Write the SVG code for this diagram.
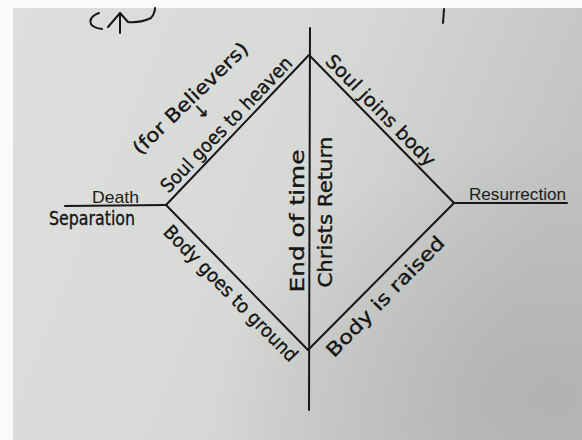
<svg xmlns="http://www.w3.org/2000/svg" width="582" height="440" viewBox="0 0 582 440">
  <defs>
    <linearGradient id="paper" x1="0" y1="0" x2="1" y2="0.3">
      <stop offset="0" stop-color="#dddfdc"/>
      <stop offset="0.55" stop-color="#d7d9d6"/>
      <stop offset="1" stop-color="#c2c4c2"/>
    </linearGradient>
    <radialGradient id="shade" cx="0.95" cy="0.9" r="0.6">
      <stop offset="0" stop-color="#9fa2a1" stop-opacity="0.5"/>
      <stop offset="1" stop-color="#9fa2a1" stop-opacity="0"/>
    </radialGradient>
  </defs>
  <style>
    .ink { fill: none; stroke: #161616; stroke-width: 2; stroke-linecap: round; stroke-linejoin: round; }
    .hand { font-family: "DejaVu Sans", "Noto Sans", sans-serif; font-size: 19px; fill: #141414; stroke: #141414; stroke-width: 0.35; }
    .print { font-family: "Liberation Sans", Arial, sans-serif; font-size: 17px; fill: #1a1a1a; }
  </style>
  <rect width="582" height="440" fill="#fafafa"/>
  <rect x="13" y="8" width="569" height="432" fill="url(#paper)"/>
  <rect x="13" y="8" width="569" height="432" fill="url(#shade)"/>

  <g id="doodles" class="ink" stroke-width="2.6">
    <path d="M 99,13 C 88,17 86,27 102,29"/>
    <path d="M 120,33 L 120,13"/>
    <path d="M 108,27 L 120,13 L 128,22 Q 141,23 151,18 Q 155,13 155,8"/>
    <path d="M 444,9 L 443,23"/>
  </g>

  <g id="connectors" class="ink">
    <path d="M 310,28 L 309,410"/>
    <path d="M 166,205 L 309,55 L 454,203 L 308,350 Z"/>
    <path d="M 65,206 L 166,205"/>
    <path d="M 454,203 L 567,203"/>
  </g>

  <g id="node-death">
    <text class="print" x="92" y="203" font-size="17.5" textLength="47" lengthAdjust="spacingAndGlyphs">Death</text>
    <text class="hand" x="49" y="225" font-size="17" textLength="86" lengthAdjust="spacingAndGlyphs">Separation</text>
  </g>

  <g id="node-resurrection">
    <text class="print" x="469" y="200" textLength="97" lengthAdjust="spacingAndGlyphs">Resurrection</text>
  </g>

  <g id="label-soul-heaven">
    <text class="hand" font-size="18" text-anchor="middle" transform="translate(231,129) rotate(-46)" textLength="180" lengthAdjust="spacingAndGlyphs">Soul goes to heaven</text>
  </g>

  <g id="label-believers">
    <text class="hand" font-size="21" text-anchor="middle" transform="translate(195,103) rotate(-44)" textLength="152" lengthAdjust="spacingAndGlyphs">(for Believers)</text>
    <text class="hand" text-anchor="middle" font-size="19" transform="translate(206,116) rotate(-44)">↓</text>
  </g>

  <g id="label-soul-body">
    <text class="hand" font-size="19" text-anchor="middle" transform="translate(376,115) rotate(45.6)" textLength="148" lengthAdjust="spacingAndGlyphs">Soul joins body</text>
  </g>

  <g id="label-body-ground">
    <text class="hand" font-size="18" text-anchor="middle" transform="translate(226,298) rotate(45.6)" textLength="182" lengthAdjust="spacingAndGlyphs">Body goes to ground</text>
  </g>

  <g id="label-body-raised">
    <text class="hand" font-size="21" text-anchor="middle" transform="translate(390,301) rotate(-45.6)" textLength="160" lengthAdjust="spacingAndGlyphs">Body is raised</text>
  </g>

  <g id="label-end-time">
    <text class="hand" font-size="22" text-anchor="middle" transform="translate(304,221) rotate(-90)" textLength="143" lengthAdjust="spacingAndGlyphs">End of time</text>
  </g>

  <g id="label-christs-return">
    <text class="hand" font-size="21" text-anchor="middle" transform="translate(332,212) rotate(-90)" textLength="151" lengthAdjust="spacingAndGlyphs">Christs Return</text>
  </g>
</svg>
